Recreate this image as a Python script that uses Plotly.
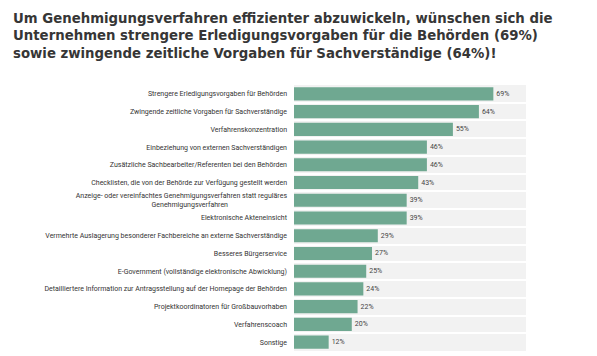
import plotly.graph_objects as go

categories = [
    "Strengere Erledigungsvorgaben für Behörden",
    "Zwingende zeitliche Vorgaben für Sachverständige",
    "Verfahrenskonzentration",
    "Einbeziehung von externen Sachverständigen",
    "Zusätzliche Sachbearbeiter/Referenten bei den Behörden",
    "Checklisten, die von der Behörde zur Verfügung gestellt werden",
    "Anzeige- oder vereinfachtes Genehmigungsverfahren statt reguläres<br>Genehmigungsverfahren" + "\u00a0" * 34,
    "Elektronische Akteneinsicht",
    "Vermehrte Auslagerung besonderer Fachbereiche an externe Sachverständige",
    "Besseres Bürgerservice",
    "E-Government (vollständige elektronische Abwicklung)",
    "Detailliertere Information zur Antragsstellung auf der Homepage der Behörden",
    "Projektkoordinatoren für Großbauvorhaben",
    "Verfahrenscoach",
    "Sonstige",
]
values = [69, 64, 55, 46, 46, 43, 39, 39, 29, 27, 25, 24, 22, 20, 12]
value_labels = [f"{v}%" for v in values]

title_text = ("Um Genehmigungsverfahren effizienter abzuwickeln, wünschen sich die<br>"
              "Unternehmen strengere Erledigungsvorgaben für die Behörden (69%)<br>"
              "sowie zwingende zeitliche Vorgaben für Sachverständige (64%)!")

W, H = 597, 356
ML, MR, MT, MB = 294, 71, 85, 5
PW, PH = W - ML - MR, H - MT - MB

fig = go.Figure(go.Bar(
    x=values,
    y=categories,
    orientation="h",
    marker=dict(color="#6fa891", line=dict(width=0)),
    text=value_labels,
    textposition="outside",
    textfont=dict(family="Roboto", size=7, color="#444444"),
    cliponaxis=False,
    width=0.74,
    hoverinfo="skip",
))

fig.add_annotation(
    text=title_text,
    xref="paper", yref="paper",
    x=(11 - ML) / PW, y=1 + (MT - 9) / PH,
    xanchor="left", yanchor="top", align="left",
    showarrow=False,
    font=dict(family="DejaVu Sans", size=13.3, color="#363636", weight="bold"),
)

fig.update_layout(
    width=W, height=H,
    margin=dict(l=ML, r=MR, t=MT, b=MB, pad=0),
    paper_bgcolor="white",
    plot_bgcolor="#f2f2f2",
    showlegend=False,
    xaxis=dict(range=[0, 80.3], showgrid=False, showticklabels=False, zeroline=False,
               fixedrange=True),
    yaxis=dict(
        autorange="reversed",
        type="category",
        tickson="boundaries",
        showgrid=True, gridcolor="white", gridwidth=2,
        ticks="", ticklabelstandoff=6,
        tickfont=dict(family="Roboto", size=7, color="#333333"),
        zeroline=False,
        fixedrange=True,
    ),
    bargap=0.26,
)

fig.write_html("out.html", config={"displayModeBar": False},
               post_script="document.body.style.margin='0';")
